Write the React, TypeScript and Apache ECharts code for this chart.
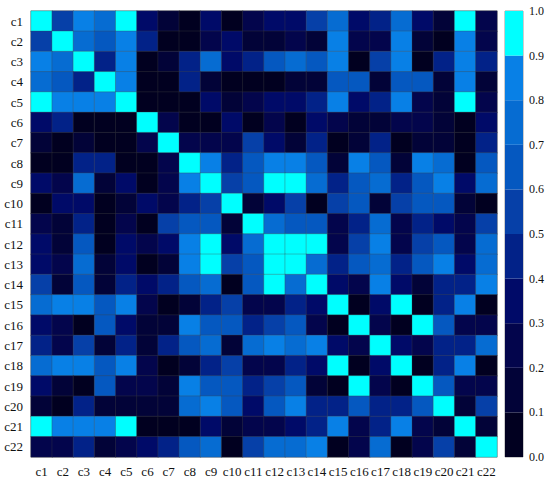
import React, { useEffect, useRef } from "react";
import * as echarts from "echarts";

const labels = ["c1","c2","c3","c4","c5","c6","c7","c8","c9","c10","c11","c12","c13","c14","c15","c16","c17","c18","c19","c20","c21","c22"];

const corr: number[][] = [
  [1.00,0.55,0.85,0.75,0.95,0.35,0.15,0.05,0.35,0.05,0.25,0.35,0.35,0.55,0.75,0.35,0.45,0.75,0.35,0.15,0.95,0.25],
  [0.55,1.00,0.75,0.65,0.85,0.45,0.05,0.05,0.25,0.35,0.15,0.15,0.25,0.15,0.85,0.25,0.25,0.85,0.15,0.05,0.85,0.25],
  [0.85,0.75,1.00,0.45,0.85,0.05,0.15,0.45,0.75,0.35,0.45,0.65,0.75,0.65,0.85,0.05,0.55,0.85,0.05,0.45,0.85,0.45],
  [0.75,0.65,0.45,1.00,0.85,0.05,0.05,0.45,0.15,0.05,0.05,0.05,0.15,0.15,0.65,0.65,0.15,0.65,0.65,0.15,0.85,0.15],
  [0.95,0.85,0.85,0.85,1.00,0.05,0.05,0.05,0.35,0.15,0.25,0.35,0.35,0.45,0.85,0.35,0.45,0.85,0.25,0.15,0.95,0.25],
  [0.35,0.45,0.05,0.05,0.05,1.00,0.25,0.05,0.05,0.35,0.05,0.25,0.05,0.35,0.25,0.15,0.15,0.25,0.25,0.15,0.05,0.35],
  [0.15,0.05,0.15,0.05,0.05,0.25,1.00,0.25,0.25,0.25,0.55,0.35,0.15,0.45,0.05,0.15,0.45,0.05,0.15,0.15,0.05,0.45],
  [0.05,0.05,0.45,0.45,0.05,0.05,0.25,1.00,0.85,0.45,0.65,0.85,0.85,0.65,0.15,0.85,0.65,0.15,0.85,0.75,0.05,0.65],
  [0.35,0.25,0.75,0.15,0.35,0.05,0.25,0.85,1.00,0.55,0.65,0.95,0.95,0.75,0.45,0.65,0.75,0.45,0.65,0.85,0.35,0.75],
  [0.05,0.35,0.35,0.05,0.15,0.35,0.25,0.45,0.55,1.00,0.15,0.35,0.55,0.05,0.55,0.65,0.15,0.55,0.65,0.65,0.15,0.05],
  [0.25,0.15,0.45,0.05,0.25,0.05,0.55,0.65,0.65,0.15,1.00,0.75,0.65,0.65,0.25,0.45,0.75,0.25,0.45,0.35,0.25,0.55],
  [0.35,0.15,0.65,0.05,0.35,0.25,0.35,0.85,0.95,0.35,0.75,1.00,0.95,0.95,0.25,0.55,0.85,0.25,0.55,0.65,0.25,0.75],
  [0.35,0.25,0.75,0.15,0.35,0.05,0.15,0.85,0.95,0.55,0.65,0.95,1.00,0.75,0.45,0.65,0.75,0.45,0.65,0.85,0.35,0.75],
  [0.55,0.15,0.65,0.15,0.45,0.35,0.45,0.65,0.75,0.05,0.65,0.95,0.75,1.00,0.35,0.25,0.85,0.35,0.15,0.45,0.45,0.85],
  [0.75,0.85,0.85,0.65,0.85,0.25,0.05,0.15,0.45,0.55,0.25,0.25,0.45,0.35,1.00,0.05,0.35,0.95,0.05,0.45,0.85,0.05],
  [0.35,0.25,0.05,0.65,0.35,0.15,0.15,0.85,0.65,0.65,0.45,0.55,0.65,0.25,0.05,1.00,0.25,0.05,0.95,0.65,0.25,0.25],
  [0.45,0.25,0.55,0.15,0.45,0.15,0.45,0.65,0.75,0.15,0.75,0.85,0.75,0.85,0.35,0.25,1.00,0.35,0.25,0.45,0.45,0.75],
  [0.75,0.85,0.85,0.65,0.85,0.25,0.05,0.15,0.45,0.55,0.25,0.25,0.45,0.35,0.95,0.05,0.35,1.00,0.05,0.45,0.85,0.05],
  [0.35,0.15,0.05,0.65,0.25,0.25,0.15,0.85,0.65,0.65,0.45,0.55,0.65,0.15,0.05,0.95,0.25,0.05,1.00,0.65,0.25,0.25],
  [0.15,0.05,0.45,0.15,0.15,0.15,0.15,0.75,0.85,0.65,0.35,0.65,0.85,0.45,0.45,0.65,0.45,0.45,0.65,1.00,0.15,0.55],
  [0.95,0.85,0.85,0.85,0.95,0.05,0.05,0.05,0.35,0.15,0.25,0.25,0.35,0.45,0.85,0.25,0.45,0.85,0.25,0.15,1.00,0.15],
  [0.25,0.25,0.45,0.15,0.25,0.35,0.45,0.65,0.75,0.05,0.55,0.75,0.75,0.85,0.05,0.25,0.75,0.05,0.25,0.55,0.15,1.00],
];

const binEdges = [0, 0.1, 0.2, 0.3, 0.4, 0.5, 0.6, 0.7, 0.8, 0.9, 1.0];

const binColors = [
  "#010020", "#020338", "#03054c", "#000a68", "#022288",
  "#0640a8", "#0558c0", "#066cd2", "#0880e6", "#00ffff",
];

const FONT = "serif";

export default function App() {
  const ref = useRef<HTMLDivElement>(null);
  useEffect(() => {
    if (!ref.current) return;
    const chart = echarts.init(ref.current, null, { renderer: "svg" });
    const heatData: [number, number, number][] = [];
    corr.forEach((row, i) => row.forEach((v, j) => heatData.push([j, i, v])));

    const pieces = binColors.map((c, i) => (
      i === binColors.length - 1
        ? { gte: binEdges[i], lte: binEdges[i + 1], color: c }
        : { gte: binEdges[i], lt: binEdges[i + 1], color: c }
    ));

    const colorbarSeries = binColors.map((c, i) => ({
      type: "bar",
      xAxisIndex: 1,
      yAxisIndex: 1,
      stack: "cb",
      barWidth: "100%",
      silent: true,
      data: [binEdges[i + 1] - binEdges[i]],
      itemStyle: { color: c },
    }));

    chart.setOption({
      animation: false,
      backgroundColor: "#ffffff",
      textStyle: { fontFamily: FONT },
      grid: [
        { left: 31, top: 11, width: 466, height: 446, show: true, borderColor: "#aaaaaa", borderWidth: 1, backgroundColor: "transparent" },
        { left: 505, top: 11, width: 18, height: 446, show: true, borderColor: "#999999", borderWidth: 1, backgroundColor: "transparent" },
      ],
      xAxis: [
        {
          type: "category", gridIndex: 0, data: labels,
          axisLine: { show: false }, axisTick: { show: false }, splitLine: { show: false },
          axisLabel: { fontFamily: FONT, fontSize: 13, color: "#111", margin: 8, interval: 0 },
        },
        {
          type: "category", gridIndex: 1, data: ["cb"],
          axisLine: { show: false }, axisTick: { show: false }, axisLabel: { show: false },
        },
      ],
      yAxis: [
        {
          type: "category", gridIndex: 0, data: labels, inverse: true,
          axisLine: { show: false }, axisTick: { show: false }, splitLine: { show: false },
          axisLabel: { fontFamily: FONT, fontSize: 13, color: "#111", margin: 8, interval: 0 },
        },
        {
          type: "value", gridIndex: 1, position: "right", min: 0, max: 1, interval: 0.1,
          axisLine: { show: false }, axisTick: { show: false }, splitLine: { show: false },
          axisLabel: { fontFamily: FONT, fontSize: 12, color: "#111", margin: 6, formatter: (v: number) => v.toFixed(1) },
        },
      ],
      visualMap: {
        type: "piecewise",
        show: false,
        seriesIndex: 0,
        dimension: 2,
        pieces,
      },
      series: [
        {
          type: "heatmap",
          xAxisIndex: 0,
          yAxisIndex: 0,
          data: heatData,
          itemStyle: { borderColor: "rgba(70,70,70,0.55)", borderWidth: 0.6 },
          emphasis: { disabled: true },
        },
        ...colorbarSeries,
      ],
    });
    return () => chart.dispose();
  }, []);
  return <div ref={ref} style={{ position: "fixed", left: 0, top: 0, width: 550, height: 483 }} />;
}
